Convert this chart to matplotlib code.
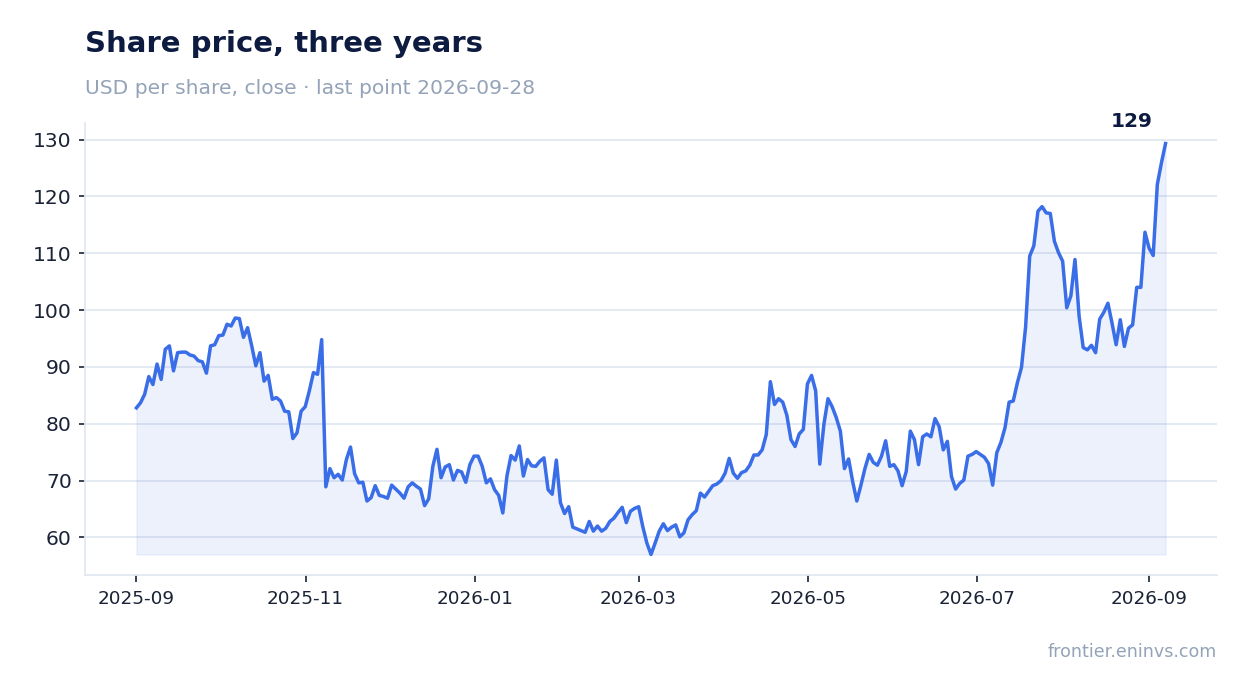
import matplotlib
matplotlib.use("Agg")
import matplotlib.pyplot as plt
import matplotlib.dates as mdates
import pandas as pd
import numpy as np

title = "Share price, three years"
subtitle = "USD per share, close · last point 2026-09-28"
footer = "frontier.eninvs.com"
start_date = "2025-09-01"
end_date = "2026-09-07"

seg_a = [82.8, 83.7, 85.2, 88.3, 86.9, 90.5, 87.8, 93.1, 93.7, 89.3, 92.5, 92.6, 92.6, 92.1,
         91.9, 91.1, 90.9, 88.9, 93.7, 93.9, 95.5, 95.6, 97.5, 97.2, 98.6, 98.5, 95.2, 96.9,
         93.7, 90.2, 92.5, 87.5, 88.5, 84.3, 84.6, 84.0, 82.2, 82.1, 77.4, 78.4, 82.2, 83.0,
         85.8, 89.0, 88.7, 94.8]
seg_b = [68.9, 72.1, 70.5, 71.1, 70.1, 73.7, 75.9, 71.2, 69.6, 69.7, 66.4, 67.0, 69.1, 67.4,
         67.2, 66.9, 69.2, 68.5, 67.8, 66.9, 68.9, 69.6, 69.0, 68.5, 65.6, 66.8, 72.5, 75.5,
         70.5, 72.4, 72.8, 70.1, 71.8, 71.5, 69.7, 72.8, 74.3, 74.3, 72.5, 69.6, 70.3, 68.4,
         67.4, 64.3, 70.8, 74.4, 73.6, 76.1, 70.8, 73.7, 72.6, 72.5, 73.4, 74.0, 68.4, 67.6,
         73.6, 66.1]
seg_c = [64.2, 65.4, 61.8, 61.5, 61.2, 60.9, 62.8, 61.1, 62.0, 61.1, 61.6, 62.8, 63.4, 64.4,
         65.3, 62.6, 64.6, 65.1, 65.4, 61.9, 59.0, 57.0, 59.0, 61.1, 62.4, 61.2, 61.8, 62.2,
         60.1, 60.8, 63.1, 64.0, 64.7, 67.8, 67.1, 68.1, 69.1, 69.4, 70.0, 71.3, 73.9, 71.3,
         70.4, 71.4, 71.7, 72.7, 74.5, 74.5, 75.4]
seg_d = [78.1, 87.4, 83.4, 84.4, 83.8, 81.5, 77.2, 76.0, 78.2, 79.0, 87.0, 88.5, 85.8, 72.9,
         79.9, 84.4, 83.0, 81.1, 78.7, 72.1, 73.8, 69.8, 66.4, 69.2, 72.2, 74.6, 73.2, 72.7,
         74.3, 77.0, 72.5, 72.8, 71.7, 69.1, 71.6, 78.7]
seg_e = [77.2, 72.8, 77.7, 78.2, 77.7, 80.9, 79.5, 75.4, 76.9, 70.7, 68.5, 69.5, 70.1, 74.3,
         74.6, 75.1, 74.6, 74.1, 73.0, 69.2, 74.9, 76.7, 79.3, 83.8, 84.0]
seg_f = [87.2, 89.9, 97.0, 109.5, 111.3, 117.4, 118.2, 117.1, 117.0, 112.1, 110.1, 108.6,
         100.4, 102.5, 108.9, 98.9, 93.4, 93.0, 93.8, 92.5, 98.4]
seg_g = [99.6, 101.2, 97.7, 93.9, 98.3, 93.6, 96.8, 97.4, 104.0, 104.0, 113.7, 110.9, 109.6,
         122.1, 125.9, 129.3]

prices = seg_a + seg_b + seg_c + seg_d + seg_e + seg_f + seg_g
dates = pd.date_range(start_date, end_date, periods=len(prices))
yticks = [60, 70, 80, 90, 100, 110, 120, 130]

LINE = "#3a6ee8"
NAVY = "#0d1b40"
GREY = "#94a3b8"
GRID = "#e2e8f0"
TICK = "#1a2236"

W, H = 1247, 693
fig = plt.figure(figsize=(W / 100, H / 100), dpi=100)
fig.patch.set_facecolor("white")
ax = fig.add_axes([85 / W, 1 - 575 / H, (1217 - 85) / W, (575 - 123) / H])

vals = np.array(prices)
ax.fill_between(dates, vals, vals.min(), color=LINE, alpha=0.09, linewidth=1.0)
ax.plot(dates, vals, color=LINE, lw=2.5, solid_joinstyle="round", zorder=3)

ax.set_yticks(yticks)
ax.grid(axis="y", color=GRID, lw=1.3)
ax.grid(axis="x", visible=False)
ax.set_axisbelow(True)
for s in ["top", "right"]:
    ax.spines[s].set_visible(False)
for s in ["left", "bottom"]:
    ax.spines[s].set_color(GRID)
    ax.spines[s].set_linewidth(1.3)

ax.xaxis.set_major_locator(mdates.MonthLocator(interval=2))
ax.xaxis.set_major_formatter(mdates.DateFormatter("%Y-%m"))
ax.tick_params(axis="y", labelsize=14.6, colors=TICK, length=4.5, width=1.2, pad=5)
ax.tick_params(axis="x", labelsize=13.2, colors=TICK, length=5, width=1.2, pad=6)

ax.annotate(f"{vals[-1]:.0f}", xy=(dates[-1], vals[-1]), xytext=(-9, 9),
            textcoords="offset points", ha="right", va="bottom",
            fontsize=14.5, fontweight="bold", color=NAVY)

fig.text(85 / W, 1 - 44 / H, title, fontsize=21, fontweight="bold", color=NAVY,
         ha="left", va="center")
fig.text(85 / W, 1 - 88 / H, subtitle, fontsize=14.6, color=GREY, ha="left", va="center")
fig.text(1217 / W, 1 - 652 / H, footer, fontsize=12.6, color=GREY, ha="right", va="center")

fig.savefig("out.png", dpi=100, facecolor="white")
